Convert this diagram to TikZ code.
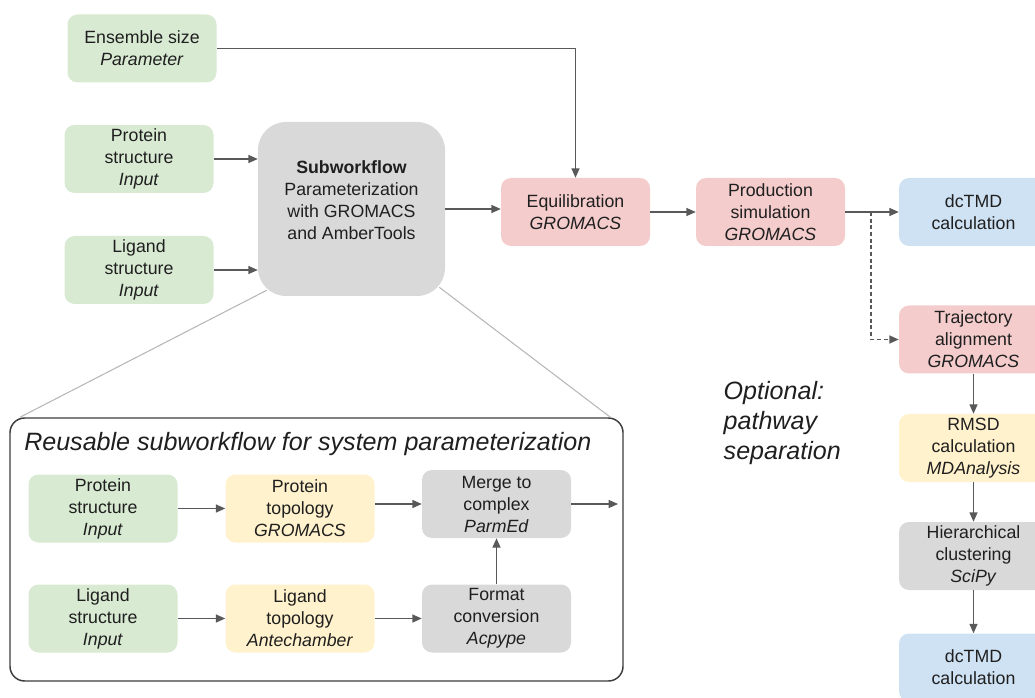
\documentclass[tikz,border=0pt]{standalone}
\usepackage{fontspec}
\setmainfont{Liberation Sans}
\usetikzlibrary{arrows.meta,calc}
\definecolor{ingreen}{HTML}{D9EAD3}
\definecolor{toolred}{HTML}{F4CCCC}
\definecolor{outblue}{HTML}{CFE2F3}
\definecolor{topoyellow}{HTML}{FFF2CC}
\definecolor{procgray}{HTML}{D9D9D9}
\definecolor{arrowgray}{HTML}{595959}
\definecolor{linkgray}{HTML}{B7B7B7}
\definecolor{framegray}{HTML}{3C3C3C}
\definecolor{textdark}{HTML}{1F1F1F}
\newcommand\boxfont{\fontsize{13.3}{16.5}\selectfont}
\newcommand\bigfont{\fontsize{18.8}{22.5}\selectfont}
\tikzset{
	flowbox/.style={rounded corners=7.5pt, minimum width=111.75pt, minimum height=51pt, inner sep=0pt, align=center, text=textdark, font=\boxfont},
	inbox/.style={flowbox, fill=ingreen},
	toolbox/.style={flowbox, fill=toolred},
	outbox/.style={flowbox, fill=outblue},
	topobox/.style={flowbox, fill=topoyellow},
	procbox/.style={flowbox, fill=procgray},
	arr/.style={draw=arrowgray, line width=0.9pt, -{Triangle[length=7pt,width=6pt]}},
	link/.style={draw=linkgray, line width=0.8pt}
}

\begin{document}
\begin{tikzpicture}[x=0.75pt, y=-0.75pt]
			%%%%% START %%%%%
			\useasboundingbox (0,0) rectangle (1035,698);
			
			% inputs and subworkflow
			\node[inbox] (ens) at (142,48.5) {Ensemble size\\\textit{Parameter}};
			\node[inbox] (pstr) at (139,159) {Protein\\structure\\\textit{Input}};
			\node[inbox] (lstr) at (139,270) {Ligand\\structure\\\textit{Input}};
			\node[procbox, rounded corners=21pt, minimum width=140.25pt, minimum height=130.5pt] (sub) at (351.5,209) {};
			\node[align=center, text=textdark, font=\boxfont] (subtxt) at (351.5,200) {\textbf{Subworkflow}\\Parameterization\\with GROMACS\\and AmberTools};
			
			% main chain
			\node[toolbox] (equi) at (575.5,212) {Equilibration\\\textit{GROMACS}};
			\node[toolbox] (prod) at (770.5,212) {Production\\simulation\\\textit{GROMACS}};
			\node[outbox] (dcone) at (973.5,212) {dcTMD\\calculation};
			
			% optional pathway separation
			\node[toolbox] (traj) at (973.5,339.5) {Trajectory\\alignment\\\textit{GROMACS}};
			\node[topobox] (rmsd) at (973.5,448) {RMSD\\calculation\\\textit{MDAnalysis}};
			\node[procbox] (hier) at (973.5,556) {Hierarchical\\clustering\\\textit{SciPy}};
			\node[outbox] (dctwo) at (973.5,667.5) {dcTMD\\calculation};
			\node[anchor=west, align=left, text=textdark, font=\bigfont\itshape] (opt) at (719,423) {Optional:\\pathway\\separation};
			
			% reusable subworkflow frame
			\node[draw=framegray, line width=1.1pt, rounded corners=11pt, minimum width=459.75pt, minimum height=197.25pt, inner sep=0pt] (frame) at (316.5,549.5) {};
			\node[anchor=west, text=textdark, font=\bigfont\itshape, inner sep=0pt] (title) at (24,444) {Reusable subworkflow for system parameterization};
			\node[inbox] (ips) at (103,508.5) {Protein\\structure\\\textit{Input}};
			\node[topobox] (ipt) at (300,508.5) {Protein\\topology\\\textit{GROMACS}};
			\node[procbox] (imerge) at (496.5,504) {Merge to\\complex\\\textit{ParmEd}};
			\node[inbox] (ils) at (103,618.5) {Ligand\\structure\\\textit{Input}};
			\node[topobox] (ilt) at (300,618.5) {Ligand\\topology\\\textit{Antechamber}};
			\node[procbox] (ifmt) at (496.5,618.5) {Format\\conversion\\\textit{Acpype}};
			\coordinate (iout) at (618,504);
			\coordinate (split) at (871,212);
			
			% zoom lines
			\draw[link] ([shift={(9,-6)}]sub.south west) -- ([xshift=8]frame.north west);
			\draw[link] ([shift={(-6,-9)}]sub.south east) -- ([xshift=-10]frame.north east);
			
			% connectors
			\draw[arr] (ens.east) -| (equi.north);
			\draw[arr] (pstr.east) -- (pstr.east -| sub.west);
			\draw[arr] (lstr.east) -- (lstr.east -| sub.west);
			\draw[arr] (sub.east) -- (sub.east -| equi.west);
			\draw[arr] (equi.east) -- (prod.west);
			\draw[arr] (prod.east) -- (dcone.west);
			\draw[arr, dash pattern=on 3pt off 2pt] (split) |- (traj.west);
			\draw[arr] (traj.south) -- (rmsd.north);
			\draw[arr] (rmsd.south) -- (hier.north);
			\draw[arr] (hier.south) -- (dctwo.north);
			
			\draw[arr] (ips.east) -- (ipt.west);
			\draw[arr] (imerge.west -| ipt.east) -- (imerge.west);
			\draw[arr] (ils.east) -- (ilt.west);
			\draw[arr] (ilt.east) -- (ifmt.west);
			\draw[arr] (ifmt.north) -- (imerge.south);
			\draw[arr] (imerge.east) -- (iout);
			%%%%% END %%%%%
\end{tikzpicture}
\end{document}
